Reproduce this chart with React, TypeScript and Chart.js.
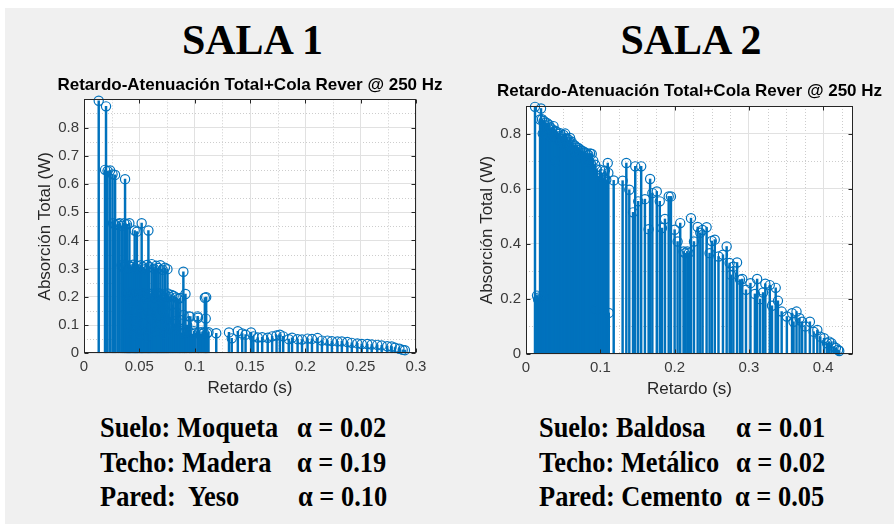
import React, { useEffect, useRef } from 'react';
import { Chart, registerables } from 'chart.js';

Chart.register(...registerables);

// ---------- data ----------
// Sala 1: reflection delay (s) and remaining absorption (W), including reverb tail
const delays1 = [
  0.0133, 0.0190, 0.0199, 0.0213, 0.0236, 0.0258, 0.0262, 0.0281,
  0.0284, 0.0305, 0.0322, 0.0340, 0.0343, 0.0356, 0.0364, 0.0371,
  0.0372, 0.0386, 0.0388, 0.0391, 0.0395, 0.0402, 0.0408, 0.0410,
  0.0412, 0.0418, 0.0425, 0.0428, 0.0436, 0.0443, 0.0445, 0.0452,
  0.0458, 0.0461, 0.0462, 0.0470, 0.0476, 0.0478, 0.0479, 0.0487,
  0.0494, 0.0497, 0.0505, 0.0511, 0.0515, 0.0521, 0.0523, 0.0528,
  0.0533, 0.0540, 0.0545, 0.0551, 0.0558, 0.0562, 0.0569, 0.0576,
  0.0580, 0.0582, 0.0590, 0.0594, 0.0598, 0.0610, 0.0612, 0.0616,
  0.0630, 0.0633, 0.0634, 0.0648, 0.0652, 0.0655, 0.0666, 0.0670,
  0.0671, 0.0684, 0.0688, 0.0690, 0.0702, 0.0706, 0.0710, 0.0720,
  0.0724, 0.0731, 0.0738, 0.0742, 0.0754, 0.0756, 0.0760, 0.0774,
  0.0778, 0.0792, 0.0796, 0.0810, 0.0814, 0.0830, 0.0833, 0.0851,
  0.0852, 0.0868, 0.0870, 0.0884, 0.0898, 0.0900, 0.0916, 0.0917,
  0.0932, 0.0948, 0.0961, 0.0962, 0.0978, 0.0993, 0.1008, 0.1027,
  0.1030, 0.1041, 0.1056, 0.1070, 0.1084, 0.1092, 0.1100, 0.1104,
  0.1112, 0.1125, 0.1195, 0.1310, 0.1335, 0.1390, 0.1430, 0.1460,
  0.1510, 0.1530, 0.1570, 0.1610, 0.1660, 0.1700, 0.1740, 0.1770,
  0.1800, 0.1850, 0.1880, 0.1930, 0.1970, 0.2020, 0.2060, 0.2110,
  0.2150, 0.2200, 0.2240, 0.2290, 0.2330, 0.2380, 0.2420, 0.2470,
  0.2510, 0.2560, 0.2600, 0.2650, 0.2690, 0.2740, 0.2780, 0.2810,
  0.2850, 0.2880, 0.2900,
];
const absorption1 = [
  0.895, 0.650, 0.875, 0.646, 0.648, 0.634, 0.461, 0.632,
  0.455, 0.458, 0.461, 0.312, 0.452, 0.305, 0.461, 0.617,
  0.314, 0.210, 0.457, 0.300, 0.128, 0.196, 0.311, 0.461,
  0.082, 0.214, 0.306, 0.150, 0.205, 0.314, 0.064, 0.212,
  0.435, 0.302, 0.118, 0.199, 0.092, 0.431, 0.310, 0.208,
  0.168, 0.296, 0.214, 0.071, 0.312, 0.461, 0.201, 0.136,
  0.305, 0.210, 0.105, 0.298, 0.196, 0.058, 0.313, 0.213,
  0.146, 0.435, 0.306, 0.204, 0.087, 0.211, 0.316, 0.122,
  0.198, 0.300, 0.162, 0.209, 0.310, 0.076, 0.214, 0.131,
  0.302, 0.203, 0.098, 0.312, 0.210, 0.154, 0.296, 0.197,
  0.068, 0.303, 0.206, 0.116, 0.298, 0.212, 0.140, 0.200,
  0.088, 0.207, 0.172, 0.203, 0.104, 0.198, 0.145, 0.193,
  0.083, 0.118, 0.196, 0.072, 0.289, 0.136, 0.075, 0.210,
  0.100, 0.131, 0.130, 0.073, 0.068, 0.078, 0.071, 0.131,
  0.126, 0.074, 0.068, 0.076, 0.072, 0.197, 0.123, 0.199,
  0.071, 0.075, 0.071, 0.074, 0.053, 0.078, 0.070, 0.066,
  0.074, 0.060, 0.056, 0.057, 0.055, 0.060, 0.063, 0.066,
  0.060, 0.050, 0.055, 0.050, 0.049, 0.052, 0.051, 0.054,
  0.045, 0.045, 0.043, 0.042, 0.042, 0.040, 0.037, 0.035,
  0.033, 0.033, 0.031, 0.030, 0.028, 0.025, 0.024, 0.020,
  0.016, 0.012, 0.011,
];

// Sala 2
const delays2 = [
  0.0121, 0.0148, 0.0163, 0.0176, 0.0189, 0.0202, 0.0215, 0.0225,
  0.0232, 0.0240, 0.0250, 0.0262, 0.0273, 0.0285, 0.0296, 0.0305,
  0.0317, 0.0328, 0.0339, 0.0350, 0.0360, 0.0370, 0.0381, 0.0392,
  0.0404, 0.0415, 0.0426, 0.0437, 0.0448, 0.0460, 0.0471, 0.0482,
  0.0493, 0.0505, 0.0516, 0.0527, 0.0538, 0.0550, 0.0561, 0.0572,
  0.0583, 0.0593, 0.0604, 0.0615, 0.0626, 0.0637, 0.0648, 0.0660,
  0.0671, 0.0682, 0.0693, 0.0705, 0.0716, 0.0727, 0.0738, 0.0750,
  0.0761, 0.0772, 0.0783, 0.0795, 0.0806, 0.0817, 0.0828, 0.0840,
  0.0851, 0.0862, 0.0874, 0.0885, 0.0905, 0.0930, 0.0934, 0.0952,
  0.0975, 0.0997, 0.1020, 0.1040, 0.1062, 0.1080, 0.1100, 0.1108,
  0.1114, 0.1180, 0.1300, 0.1350, 0.1390, 0.1440, 0.1470, 0.1510,
  0.1550, 0.1600, 0.1650, 0.1670, 0.1700, 0.1760, 0.1800, 0.1830,
  0.1870, 0.1920, 0.1950, 0.2000, 0.2040, 0.2075, 0.2120, 0.2140,
  0.2170, 0.2190, 0.2220, 0.2260, 0.2310, 0.2345, 0.2376, 0.2430,
  0.2470, 0.2500, 0.2540, 0.2590, 0.2650, 0.2700, 0.2740, 0.2760,
  0.2790, 0.2840, 0.2880, 0.2910, 0.2960, 0.3020, 0.3080, 0.3110,
  0.3150, 0.3190, 0.3220, 0.3280, 0.3310, 0.3360, 0.3390, 0.3440,
  0.3510, 0.3580, 0.3600, 0.3640, 0.3680, 0.3715, 0.3760, 0.3820,
  0.3870, 0.3920, 0.3960, 0.4010, 0.4050, 0.4080, 0.4110, 0.4140,
  0.4170, 0.4200, 0.4215,
];
const absorption2 = [
  0.897, 0.212, 0.198, 0.205, 0.851, 0.891, 0.852, 0.800,
  0.208, 0.846, 0.830, 0.840, 0.810, 0.838, 0.820, 0.833,
  0.800, 0.822, 0.790, 0.815, 0.800, 0.827, 0.790, 0.810,
  0.700, 0.806, 0.780, 0.798, 0.790, 0.801, 0.770, 0.790,
  0.780, 0.795, 0.760, 0.800, 0.780, 0.782, 0.760, 0.778,
  0.770, 0.784, 0.760, 0.770, 0.750, 0.760, 0.740, 0.756,
  0.730, 0.750, 0.740, 0.748, 0.720, 0.742, 0.730, 0.738,
  0.710, 0.735, 0.720, 0.731, 0.700, 0.728, 0.710, 0.722,
  0.700, 0.728, 0.690, 0.726, 0.702, 0.687, 0.160, 0.670,
  0.645, 0.669, 0.652, 0.640, 0.665, 0.632, 0.693, 0.657,
  0.149, 0.630, 0.629, 0.693, 0.596, 0.514, 0.681, 0.554,
  0.681, 0.562, 0.453, 0.635, 0.584, 0.590, 0.554, 0.457,
  0.490, 0.572, 0.572, 0.451, 0.408, 0.475, 0.372, 0.366,
  0.372, 0.366, 0.493, 0.408, 0.461, 0.440, 0.450, 0.460,
  0.366, 0.410, 0.415, 0.354, 0.360, 0.390, 0.330, 0.287,
  0.317, 0.332, 0.270, 0.272, 0.233, 0.257, 0.218, 0.272,
  0.199, 0.223, 0.255, 0.250, 0.175, 0.240, 0.193, 0.154,
  0.136, 0.148, 0.117, 0.154, 0.130, 0.117, 0.100, 0.117,
  0.081, 0.087, 0.063, 0.057, 0.039, 0.045, 0.039, 0.027,
  0.022, 0.015, 0.011,
];

// axis ticks
const xTicks1 = [0, 0.05, 0.1, 0.15, 0.2, 0.25, 0.3];
const yTicks1 = [0, 0.1, 0.2, 0.3, 0.4, 0.5, 0.6, 0.7, 0.8];
const xTicks2 = [0, 0.1, 0.2, 0.3, 0.4];
const yTicks2 = [0, 0.2, 0.4, 0.6, 0.8];

// texts
const chartTitle = 'Retardo-Atenuación Total+Cola Rever @ 250 Hz';
const xLabel = 'Retardo (s)';
const yLabel = 'Absorción Total (W)';
const roomNames = ['SALA 1', 'SALA 2'];
const materials1 = ['Suelo: Moqueta', 'Techo: Madera', 'Pared:  Yeso'];
const alphas1 = ['α = 0.02', 'α = 0.19', 'α = 0.10'];
const materials2 = ['Suelo: Baldosa', 'Techo: Metálico', 'Pared: Cemento'];
const alphas2 = ['α = 0.01', 'α = 0.02', 'α = 0.05'];

// ---------- styling ----------
const BLUE = '#0072bd';
const AXIS_COLOR = '#262626';
const TICK_TEXT = '#3a3a3a';
const MAJOR_GRID = '#e1e1e1';
const MINOR_GRID = '#cdcdcd';
const SANS = '"Liberation Sans", Arial, Helvetica, sans-serif';
const SERIF = '"Liberation Serif", "Times New Roman", serif';

const fmt = (v: number) => String(+Number(v).toFixed(3));

function minorValues(max: number, majors: number[], perMajor: number) {
  const step = (majors[1] - majors[0]) / perMajor;
  const out: number[] = [];
  for (let k = 1; k * step < max - 1e-9; k++) {
    const v = k * step;
    if (!majors.some((m) => Math.abs(m - v) < 1e-9)) out.push(v);
  }
  return out;
}

// white plot box, dotted minor grid, box outline, inward ticks and title
const axesDecor = {
  id: 'axesDecor',
  beforeDraw(chart: any, _args: any, o: any) {
    const { ctx, chartArea: a, scales } = chart;
    ctx.save();
    ctx.fillStyle = '#ffffff';
    ctx.fillRect(a.left, a.top, a.right - a.left, a.bottom - a.top);
    ctx.strokeStyle = MINOR_GRID;
    ctx.lineWidth = 1;
    ctx.setLineDash([1, 2]);
    for (const v of minorValues(scales.x.max, o.xTicks, o.xMinor)) {
      const px = Math.round(scales.x.getPixelForValue(v)) + 0.5;
      ctx.beginPath();
      ctx.moveTo(px, a.top);
      ctx.lineTo(px, a.bottom);
      ctx.stroke();
    }
    for (const v of minorValues(scales.y.max, o.yTicks, o.yMinor)) {
      const py = Math.round(scales.y.getPixelForValue(v)) + 0.5;
      ctx.beginPath();
      ctx.moveTo(a.left, py);
      ctx.lineTo(a.right, py);
      ctx.stroke();
    }
    ctx.restore();
  },
  afterDatasetsDraw(chart: any, _args: any, o: any) {
    const { ctx, chartArea: a, scales } = chart;
    const L = Math.round(a.left) + 0.5;
    const R = Math.round(a.right) - 0.5;
    const T = Math.round(a.top) + 0.5;
    const B = Math.round(a.bottom) - 0.5;
    ctx.save();
    ctx.strokeStyle = AXIS_COLOR;
    ctx.lineWidth = 1;
    ctx.strokeRect(L, T, R - L, B - T);
    const tl = 4;
    ctx.beginPath();
    for (const v of o.xTicks) {
      const px = Math.round(scales.x.getPixelForValue(v)) + 0.5;
      ctx.moveTo(px, B);
      ctx.lineTo(px, B - tl);
      ctx.moveTo(px, T);
      ctx.lineTo(px, T + tl);
    }
    for (const v of o.yTicks) {
      const py = Math.round(scales.y.getPixelForValue(v)) + 0.5;
      ctx.moveTo(L, py);
      ctx.lineTo(L + tl, py);
      ctx.moveTo(R, py);
      ctx.lineTo(R - tl, py);
    }
    ctx.stroke();
    ctx.restore();
  },
  afterDraw(chart: any, _args: any, o: any) {
    const { ctx, chartArea: a } = chart;
    ctx.save();
    ctx.fillStyle = '#000000';
    ctx.font = `bold 17px ${SANS}`;
    ctx.textAlign = 'center';
    ctx.textBaseline = 'middle';
    ctx.fillText(o.title, (a.left + a.right) / 2, a.top - o.titleGap);
    ctx.restore();
  },
};

type PanelSpec = {
  delays: number[];
  values: number[];
  xTicks: number[];
  yTicks: number[];
  xMax: number;
  yMax: number;
  xMinor: number;
  yMinor: number;
  left: number;
  top: number;
  width: number;
  height: number;
  areaLeft: number;
  areaRight: number;
  areaTop: number;
  areaBottom: number;
  yTitlePad: number;
  xTitlePad: number;
  titleGap: number;
};

function buildConfig(p: PanelSpec): any {
  const stems = p.delays.map((d, i) => ({ x: d, y: p.values[i] }));
  return {
    type: 'bar',
    data: {
      datasets: [
        {
          type: 'scatter',
          data: stems,
          pointStyle: 'circle',
          pointRadius: 4.6,
          pointHoverRadius: 4.6,
          pointBorderWidth: 1.2,
          borderColor: BLUE,
          pointBorderColor: BLUE,
          pointBackgroundColor: 'rgba(0,0,0,0)',
          backgroundColor: 'rgba(0,0,0,0)',
          clip: false,
          order: 0,
        },
        {
          type: 'bar',
          data: stems,
          backgroundColor: BLUE,
          borderWidth: 0,
          barThickness: 1.8,
          order: 1,
        },
      ],
    },
    options: {
      animation: false,
      responsive: false,
      devicePixelRatio: 1,
      events: [],
      layout: {
        padding: {
          left: 0,
          right: p.width - p.areaRight,
          top: p.areaTop,
          bottom: 0,
        },
      },
      plugins: {
        legend: { display: false },
        tooltip: { enabled: false },
        title: { display: false },
        axesDecor: {
          xTicks: p.xTicks,
          yTicks: p.yTicks,
          xMinor: p.xMinor,
          yMinor: p.yMinor,
          title: chartTitle,
          titleGap: p.titleGap,
        },
      },
      scales: {
        x: {
          type: 'linear',
          min: 0,
          max: p.xMax,
          offset: false,
          afterBuildTicks: (s: any) => {
            s.ticks = p.xTicks.map((v) => ({ value: v }));
          },
          afterFit: (s: any) => {
            s.height = p.height - p.areaBottom;
          },
          grid: { color: MAJOR_GRID, lineWidth: 1, drawTicks: false, offset: false },
          border: { display: false },
          ticks: {
            padding: 5,
            color: TICK_TEXT,
            font: { family: SANS, size: 15 },
            maxRotation: 0,
            autoSkip: false,
            callback: (v: any) => fmt(v),
          },
          title: {
            display: true,
            text: xLabel,
            color: AXIS_COLOR,
            font: { family: SANS, size: 17 },
            padding: { top: 0, bottom: p.xTitlePad },
          },
        },
        y: {
          type: 'linear',
          min: 0,
          max: p.yMax,
          afterBuildTicks: (s: any) => {
            s.ticks = p.yTicks.map((v) => ({ value: v }));
          },
          afterFit: (s: any) => {
            s.width = p.areaLeft;
          },
          grid: { color: MAJOR_GRID, lineWidth: 1, drawTicks: false },
          border: { display: false },
          ticks: {
            padding: 5,
            color: TICK_TEXT,
            font: { family: SANS, size: 15 },
            autoSkip: false,
            callback: (v: any) => fmt(v),
          },
          title: {
            display: true,
            text: yLabel,
            color: AXIS_COLOR,
            font: { family: SANS, size: 17 },
            padding: { top: p.yTitlePad, bottom: 0 },
          },
        },
      },
    },
    plugins: [axesDecor],
  };
}

const panel1: PanelSpec = {
  delays: delays1,
  values: absorption1,
  xTicks: xTicks1,
  yTicks: yTicks1,
  xMax: 0.3,
  yMax: 0.9,
  xMinor: 2,
  yMinor: 2,
  left: 0,
  top: 60,
  width: 450,
  height: 340,
  areaLeft: 84,
  areaRight: 416,
  areaTop: 39.3,
  areaBottom: 293.3,
  yTitlePad: 35.3,
  xTitlePad: 1.5,
  titleGap: 14.3,
};

const panel2: PanelSpec = {
  delays: delays2,
  values: absorption2,
  xTicks: xTicks2,
  yTicks: yTicks2,
  xMax: 0.44,
  yMax: 0.9,
  xMinor: 4,
  yMinor: 2,
  left: 450,
  top: 60,
  width: 444,
  height: 340,
  areaLeft: 76,
  areaRight: 403,
  areaTop: 46,
  areaBottom: 294,
  yTitlePad: 27.3,
  xTitlePad: 0.5,
  titleGap: 15,
};

function StemPanel({ spec }: { spec: PanelSpec }) {
  const ref = useRef<HTMLCanvasElement>(null);
  useEffect(() => {
    const chart = new Chart(ref.current as HTMLCanvasElement, buildConfig(spec));
    return () => chart.destroy();
  }, [spec]);
  return (
    <canvas
      ref={ref}
      width={spec.width}
      height={spec.height}
      style={{
        position: 'absolute',
        left: spec.left,
        top: spec.top,
        width: spec.width,
        height: spec.height,
      }}
    />
  );
}

const matText: React.CSSProperties = {
  position: 'absolute',
  fontFamily: SERIF,
  fontWeight: 'bold',
  fontSize: 30,
  lineHeight: '30px',
  whiteSpace: 'pre',
  color: '#000',
  transform: 'scaleX(0.88)',
  transformOrigin: 'left top',
};

const rowTops = [412, 447, 481];

function MaterialBlock({
  labels,
  alphas,
  labelX,
  alphaX,
}: {
  labels: string[];
  alphas: string[];
  labelX: number;
  alphaX: number[];
}) {
  return (
    <>
      {labels.map((t, i) => (
        <div key={'l' + i} style={{ ...matText, left: labelX, top: rowTops[i] }}>
          {t}
        </div>
      ))}
      {alphas.map((t, i) => (
        <div key={'a' + i} style={{ ...matText, left: alphaX[i], top: rowTops[i] }}>
          {t}
        </div>
      ))}
    </>
  );
}

const roomTitle: React.CSSProperties = {
  position: 'absolute',
  top: 19,
  width: 300,
  textAlign: 'center',
  fontFamily: SERIF,
  fontWeight: 'bold',
  fontSize: 42,
  lineHeight: '42px',
  color: '#000',
  whiteSpace: 'pre',
};

export default function App() {
  return (
    <div
      style={{
        position: 'fixed',
        left: 0,
        top: 0,
        width: 894,
        height: 524,
        background: '#ffffff',
        overflow: 'hidden',
      }}
    >
      <div
        style={{
          position: 'absolute',
          left: 5,
          top: 8,
          width: 889,
          height: 516,
          background: '#f0f0f0',
        }}
      />
      <div style={{ ...roomTitle, left: 252.5 - 150 }}>{roomNames[0]}</div>
      <div style={{ ...roomTitle, left: 691 - 150 }}>{roomNames[1]}</div>
      <StemPanel spec={panel1} />
      <StemPanel spec={panel2} />
      <MaterialBlock labels={materials1} alphas={alphas1} labelX={100} alphaX={[297, 297, 298]} />
      <MaterialBlock labels={materials2} alphas={alphas2} labelX={539} alphaX={[736, 736, 735]} />
    </div>
  );
}
